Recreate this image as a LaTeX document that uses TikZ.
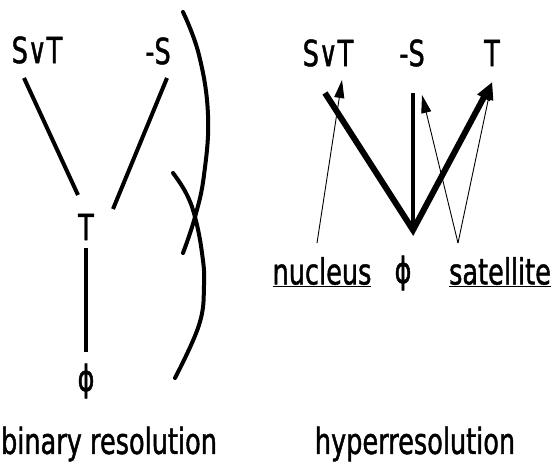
\documentclass[tikz,border=0pt]{standalone}
\usepackage{fontspec}
\newfontfamily\gothic[FakeStretch=0.71, FakeBold=1.2]{DejaVu Sans}
\usetikzlibrary{arrows.meta,calc}

\begin{document}
\begin{tikzpicture}[x=1pt,y=-1pt,
    lbl/.style={font=\gothic\fontsize{36}{42}\selectfont, inner sep=0pt},
    bond/.style={line width=4pt},
    heavy/.style={line width=6pt, line join=miter},
    pointer/.style={line width=0.9pt, -{Triangle[length=18pt,width=10pt]}}]
    \useasboundingbox (0,0) rectangle (553,463);
    % binary resolution
    \node[lbl] (svtL) at (37,50) {S∨T};
    \node[lbl] (negsL) at (158,51) {-S};
    \node[lbl] (tL) at (86,227) {T};
    \node[lbl] (phiL) at (86,381) {ϕ};
    \node[lbl] (binL) at (109,444) {binary resolution};
    \draw[bond] ($(svtL)+(-13,28)$) -- ($(tL)+(-8,-32)$);
    \draw[bond] ($(negsL)+(9,27)$) -- ($(tL)+(27,-18)$);
    \draw[bond] ($(tL)+(0,21)$) -- ($(phiL)+(0,-29)$);
    % brackets
    \draw[bond, line cap=round] plot [smooth, tension=0.7] coordinates {(183,12) (199,55) (208,115) (204,175) (195,217) (183,253)};
    \draw[bond, line cap=round] plot [smooth, tension=0.7] coordinates {(173,173) (186,193) (195,217) (202,253) (204,285) (199,325) (175,378)};
    % hyperresolution
    \node[lbl] (svtR) at (328,53) {S∨T};
    \node[lbl] (negsR) at (412,53) {-S};
    \node[lbl] (tR) at (492,53) {T};
    \node[lbl] (nucR) at (322,272) {\underline{nucleus}};
    \node[lbl] (phiR) at (403,273) {ϕ};
    \node[lbl] (satR) at (500,272) {\underline{satellite}};
    \node[lbl] (hypR) at (415,444) {hyperresolution};
    \coordinate (v) at (413,230);
    \draw[bond] ($(negsR)+(1,40)$) -- (v);
    \draw[heavy, -{Triangle[length=18pt,width=13pt]}] ($(svtR)+(-3,40)$) -- (v) -- ($(tR)+(0,29)$);
    % pointers
    \draw[pointer] ($(nucR)+(-5,-29)$) -- ($(svtR)+(14,27)$);
    \draw[pointer] ($(satR)+(-42,-29)$) -- ($(negsR)+(10,42)$);
    \draw[pointer] ($(satR)+(-42,-29)$) -- ($(tR)+(0,29)$);
\end{tikzpicture}
\end{document}
